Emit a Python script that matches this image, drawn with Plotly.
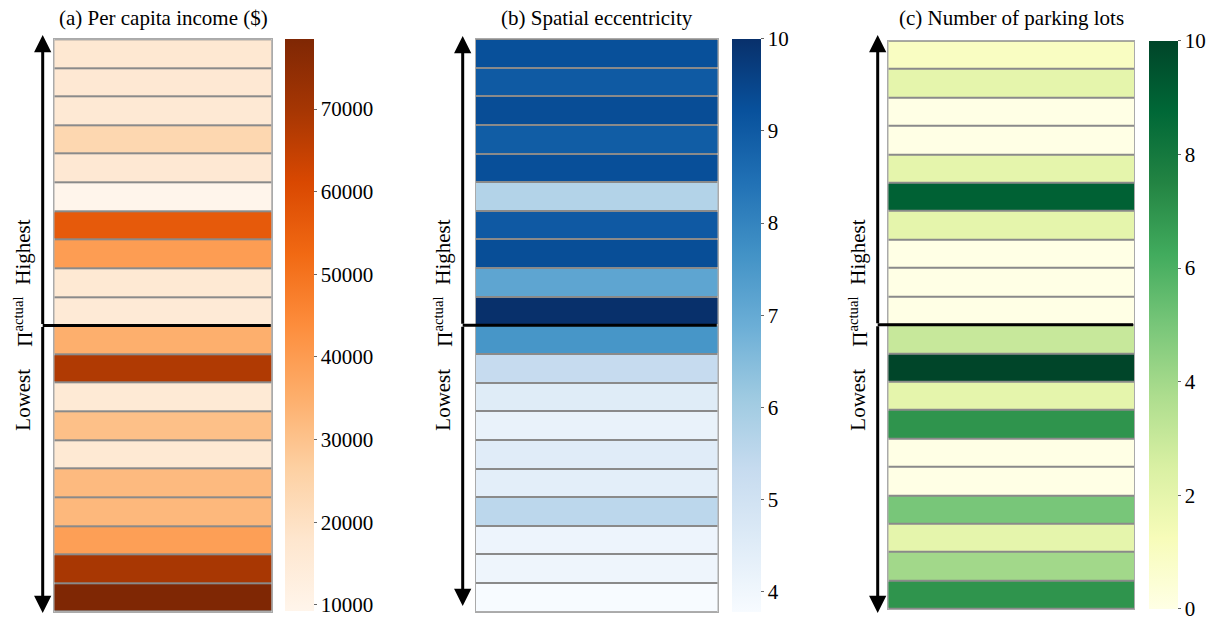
import plotly.graph_objects as go
import plotly.colors as pc

W, H = 1216, 617

# Rows are ordered from highest (top) to lowest (bottom)
income = [16800, 16500, 16000, 23700, 16500, 9190, 56300, 39600, 16300, 15500,
          34800, 68000, 15800, 30600, 16300, 32000, 32500, 39000, 69400, 78430]
eccentricity = [9.25, 9.0, 9.32, 8.94, 9.27, 5.71, 9.02, 9.3, 7.14, 10.0,
                7.57, 5.34, 4.53, 4.22, 4.5, 4.4, 5.52, 4.1, 4.05, 3.78]
parking = [1, 2, 0, 0, 2, 9, 2, 0, 0, 0,
           3, 10, 2, 7, 0, 0, 5, 2, 4, 7]

titles = ["(a) Per capita income ($)", "(b) Spatial eccentricity", "(c) Number of parking lots"]
income_ticks = [10000, 20000, 30000, 40000, 50000, 60000, 70000]
ecc_ticks = [4, 5, 6, 7, 8, 9, 10]
parking_ticks = [0, 2, 4, 6, 8, 10]

FONT = "Liberation Serif, Times New Roman, serif"


def px_x(p):
    return p / W


def px_y(p):
    return 1 - p / H


# panel geometry in pixels: heatmap left/right, top/bottom, colorbar left, arrow x
panels = [
    dict(vals=income, cs=pc.sequential.Oranges, ticks=income_ticks,
         hx=(54.3, 271.7), hy=(39.3, 611.7), cbx=284.7, ax=42.7,
         arrow=(35, 613)),
    dict(vals=eccentricity, cs=pc.sequential.Blues, ticks=ecc_ticks,
         hx=(475.7, 717.7), hy=(39.0, 611.7), cbx=732.3, ax=462.7,
         arrow=(36, 606)),
    dict(vals=parking, cs=pc.sequential.YlGn, ticks=parking_ticks,
         hx=(888.3, 1134.0), hy=(40.7, 609.0), cbx=1149.3, ax=877.7,
         arrow=(35, 613)),
]

fig = go.Figure()
layout = dict(width=W, height=H, margin=dict(l=0, r=0, t=0, b=0),
              paper_bgcolor="white", plot_bgcolor="#8a8a8a", showlegend=False)
annotations = []
shapes = []

for i, p in enumerate(panels):
    n = len(p["vals"])
    sfx = "" if i == 0 else str(i + 1)
    x0, x1 = p["hx"]
    y0, y1 = p["hy"]
    cb_len = (y1 - y0) / H
    cb_y = px_y((y0 + y1) / 2)
    fig.add_trace(go.Heatmap(
        z=[[v] for v in p["vals"]], x=[0], y=list(range(n)),
        colorscale=p["cs"], ygap=2,
        xaxis="x" + sfx, yaxis="y" + sfx,
        colorbar=dict(
            x=px_x(p["cbx"]), xanchor="left", xpad=0, ypad=0,
            y=cb_y, yanchor="middle", len=cb_len, lenmode="fraction",
            thickness=29, thicknessmode="pixels", outlinewidth=0,
            ticks="outside", ticklen=3, tickwidth=1, tickcolor="#666",
            tickvals=p["ticks"], tickformat="d", tickprefix="\u00a0",
            ticklabeloverflow="allow",
            tickfont=dict(family=FONT, size=21, color="black"),
        ),
    ))
    layout["xaxis" + sfx] = dict(domain=[px_x(x0), px_x(x1)], range=[-0.5, 0.5],
                                 showticklabels=False, ticks="", showgrid=False,
                                 zeroline=False, showline=True, mirror=True,
                                 linecolor="#aaaaaa", linewidth=1,
                                 anchor="y" + sfx, fixedrange=True)
    layout["yaxis" + sfx] = dict(domain=[px_y(y1), px_y(y0)], range=[n - 0.5, -0.5],
                                 showticklabels=False, ticks="", showgrid=False,
                                 zeroline=False, showline=True, mirror=True,
                                 linecolor="#aaaaaa", linewidth=1,
                                 anchor="x" + sfx, fixedrange=True)

    # panel title
    annotations.append(dict(text=titles[i], xref="paper", yref="paper",
                            x=px_x((x0 + x1) / 2), y=px_y(18), xanchor="center",
                            yanchor="middle", showarrow=False,
                            font=dict(family=FONT, size=21, color="black")))

    # divider between the two halves of the ranking
    shapes.append(dict(type="line", xref="paper", yref="y" + sfx,
                       x0=px_x(p["ax"]), x1=px_x(x1 - 1), y0=n / 2 - 0.5, y1=n / 2 - 0.5,
                       line=dict(color="black", width=3)))

    # double-headed ranking arrow
    mid = y0 + (y1 - y0) / 2
    top, bot = p["arrow"]
    for tip in (top, bot):
        annotations.append(dict(text="", xref="paper", yref="paper",
                                x=px_x(p["ax"]), y=px_y(tip), ax=0, ay=mid - tip,
                                showarrow=True, arrowhead=2, arrowsize=1.15,
                                arrowwidth=3, arrowcolor="black", standoff=0))

    tx = p["ax"] - 20
    for label, cy in (("Highest", 252), ("Π<sup>actual</sup>", 322), ("Lowest", 400)):
        annotations.append(dict(text=label, xref="paper", yref="paper",
                                x=px_x(tx), y=px_y(cy), xanchor="center",
                                yanchor="middle", textangle=-90, showarrow=False,
                                font=dict(family=FONT, size=21, color="black")))

layout["annotations"] = annotations
layout["shapes"] = shapes
fig.update_layout(**layout)
fig.write_html("out.html")
